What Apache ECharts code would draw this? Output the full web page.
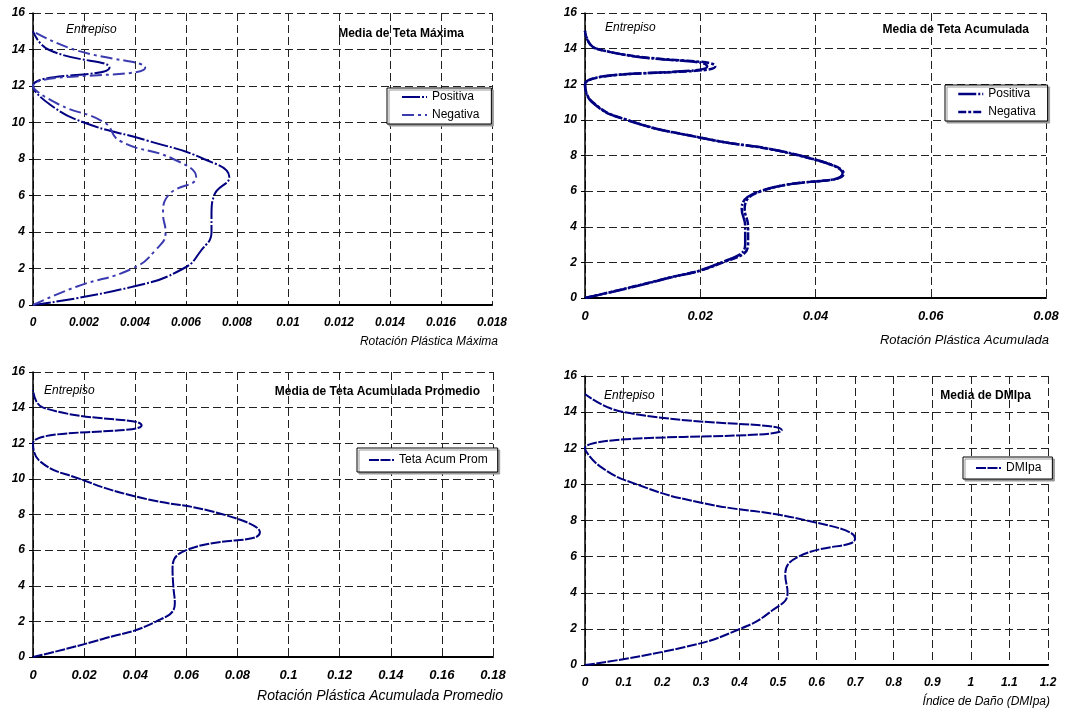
<!DOCTYPE html>
<html>
<head>
<meta charset="utf-8">
<script src="https://cdn.jsdelivr.net/npm/echarts@6/dist/echarts.min.js"></script>
<style>
  html, body { margin: 0; padding: 0; background: #fff; }
  #main { width: 1077px; height: 711px; }
</style>
</head>
<body>
<div id="main"></div>
<script>
var floors = [0, 1, 2, 3, 4, 5, 6, 7, 8, 9, 10, 11, 12, 13, 14, 15];

var maxPositiva = [0, 0.0039, 0.0059, 0.0066, 0.0070, 0.0070, 0.0071, 0.0077, 0.0067, 0.0045, 0.0020, 0.00065, 0, 0.0030, 0.0006, 0];
var maxNegativa = [0, 0.0017, 0.0039, 0.0048, 0.0052, 0.0051, 0.0053, 0.0064, 0.0055, 0.0034, 0.0028, 0.0010, 0, 0.0044, 0.0016, 0];

var acumPositiva = [0, 0.0130, 0.0237, 0.0278, 0.0278, 0.0272, 0.0304, 0.0447, 0.0373, 0.0200, 0.0072, 0.0012, 0, 0.0212, 0.0020, 0];
var acumNegativa = [0, 0.0128, 0.0240, 0.0283, 0.0283, 0.0277, 0.0306, 0.0449, 0.0371, 0.0201, 0.0073, 0.0013, 0, 0.0226, 0.0019, 0];

var acumProm = [0, 0.027, 0.0483, 0.0555, 0.0549, 0.0546, 0.060, 0.0888, 0.0745, 0.0405, 0.0183, 0.0026, 0, 0.0425, 0.004, 0];

var dmipa = [0, 0.26, 0.402, 0.484, 0.525, 0.519, 0.554, 0.70, 0.575, 0.298, 0.134, 0.039, 0, 0.51, 0.10, 0];

// rango de los ejes X: [max, intervalo]
var xTicks = [[0.018, 0.002], [0.08, 0.02], [0.18, 0.02], [1.2, 0.1]];
var yTicks = [0, 16, 2];

var FONT = '"Liberation Sans", Arial, sans-serif';
var NAVY = '#000080';

function pairs(xs) {
    return xs.map(function (v, i) { return [v, floors[i]]; });
}

var dashGrid = { show: true, lineStyle: { color: '#222', width: 1, type: [8, 4] } };

function makeX(i, size) {
    return {
        type: 'value', gridIndex: i, min: 0, max: xTicks[i][0], interval: xTicks[i][1],
        axisLine: { show: true, onZero: false, lineStyle: { color: '#000', width: 2 } },
        axisTick: { show: false },
        axisLabel: { margin: 12, color: '#000', fontSize: size, fontWeight: 'bold', fontStyle: 'italic', fontFamily: FONT },
        splitLine: dashGrid
    };
}

function makeY(i) {
    return {
        type: 'value', gridIndex: i, min: yTicks[0], max: yTicks[1], interval: yTicks[2],
        axisLine: { show: true, onZero: false, lineStyle: { color: '#000', width: 1.5 } },
        axisTick: { show: true, length: 4, lineStyle: { color: '#000' } },
        axisLabel: { margin: 8, color: '#000', fontSize: 12, fontWeight: 'bold', fontStyle: 'italic', fontFamily: FONT },
        splitLine: dashGrid
    };
}

function txt(x, y, s, align, font) {
    return {
        type: 'text', x: x, y: y, silent: true,
        style: { text: s, font: font, fill: '#000', align: align, verticalAlign: 'middle' }
    };
}

function line(name, i, data, color, width, dash) {
    return {
        name: name, type: 'line', xAxisIndex: i, yAxisIndex: i,
        data: pairs(data), smooth: 0.5, symbol: 'none',
        lineStyle: { color: color, width: width, type: dash },
        itemStyle: { color: color }
    };
}

function legendBox(left, top, pad, names) {
    return {
        left: left, top: top, orient: 'vertical', padding: pad,
        itemWidth: 25, itemHeight: 12, itemGap: 6,
        backgroundColor: '#fff', borderColor: '#000', borderWidth: 1,
        shadowColor: '#999', shadowOffsetX: 2, shadowOffsetY: 2, shadowBlur: 0,
        itemStyle: { opacity: 0 },
        textStyle: { color: '#000', fontSize: 12, fontFamily: FONT, lineHeight: 12 },
        data: names
    };
}

var bold = 'bold 12px ' + FONT;
var ital = 'italic 12px ' + FONT;

var option = {
    backgroundColor: '#fff',
    animation: false,
    grid: [
        { left: 33, top: 13, width: 459, height: 292 },
        { left: 585, top: 13, width: 461, height: 285 },
        { left: 33, top: 372, width: 460, height: 285 },
        { left: 585, top: 376, width: 463, height: 289 }
    ],
    xAxis: [makeX(0, 12), makeX(1, 13), makeX(2, 13), makeX(3, 12)],
    yAxis: [makeY(0), makeY(1), makeY(2), makeY(3)],
    legend: [
        legendBox(387, 88, [3, 12, 3, 14], [
            { name: 'Positiva', lineStyle: { color: NAVY, width: 2, type: [18, 2, 2, 2] } },
            { name: 'Negativa', lineStyle: { color: '#3b3bb0', width: 2, type: [12, 4, 3, 4] } }
        ]),
        legendBox(945, 85, [3, 12, 3, 12], [
            { name: 'Positiva', lineStyle: { color: NAVY, width: 2.5, type: [18, 2, 2, 2] } },
            { name: 'Negativa', lineStyle: { color: NAVY, width: 2.5, type: [8, 2, 3, 2] } }
        ]),
        legendBox(357, 448, [6, 10, 6, 11], ['Teta Acum Prom']),
        legendBox(963, 457, [5, 11, 5, 12], ['DMIpa'])
    ],
    graphic: [
        txt(464, 34, 'Media de Teta Máxima', 'right', bold),
        txt(1029, 30, 'Media de Teta Acumulada', 'right', bold),
        txt(480, 392, 'Media de Teta Acumulada Promedio', 'right', bold),
        txt(1031, 396, 'Media de DMIpa', 'right', bold),
        txt(66, 30, 'Entrepiso', 'left', ital),
        txt(605, 28, 'Entrepiso', 'left', ital),
        txt(44, 391, 'Entrepiso', 'left', ital),
        txt(604, 396, 'Entrepiso', 'left', ital),
        txt(498, 342, 'Rotación Plástica Máxima', 'right', 'italic 12px ' + FONT),
        txt(1049, 340, 'Rotación Plástica Acumulada', 'right', 'italic 13px ' + FONT),
        txt(503, 696, 'Rotación Plástica Acumulada Promedio', 'right', 'italic 14px ' + FONT),
        txt(1050, 702, 'Índice de Daño (DMIpa)', 'right', 'italic 12px ' + FONT)
    ],
    series: [
        line('Positiva', 0, maxPositiva, NAVY, 2, [18, 2, 2, 2]),
        line('Negativa', 0, maxNegativa, '#3b3bb0', 2, [12, 4, 3, 4]),
        line('Positiva', 1, acumPositiva, NAVY, 2.5, [18, 2, 2, 2]),
        line('Negativa', 1, acumNegativa, NAVY, 2.5, [8, 2, 3, 2]),
        line('Teta Acum Prom', 2, acumProm, NAVY, 2, [10, 1.5]),
        line('DMIpa', 3, dmipa, NAVY, 2, [10, 1.5])
    ]
};

var myChart = echarts.init(document.getElementById('main'));
myChart.setOption(option);
</script>
</body>
</html>
